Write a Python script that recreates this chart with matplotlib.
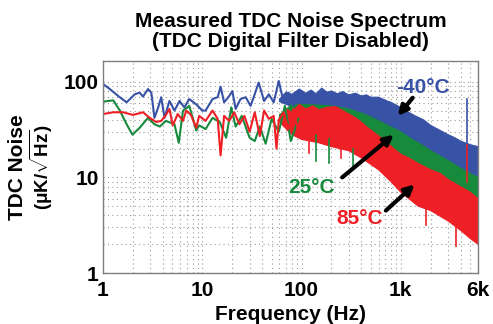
import numpy as np
import matplotlib
matplotlib.use("Agg")
from matplotlib import pyplot as plt
from matplotlib.ticker import FixedLocator, LogLocator, NullFormatter

# Colours
BLUE  = "#3853a6"
GREEN = "#178a3c"
RED   = "#ee2026"

# Low-frequency part (individual wiggles), Hz / uK/rtHz
blueLowF  = [1.0, 1.17, 1.45, 1.73, 2.09, 2.34, 2.53, 2.84, 3.07, 3.3, 3.6, 3.86, 4.17, 4.67,
             5.25, 5.9, 6.6, 7.4, 8.7, 10.0, 10.8, 12.7, 14.3, 15.3, 16.6, 18.7, 20.1, 21.7,
             24.3, 27.4, 30.7, 33.0, 37.0, 42.0, 46.8, 52.5, 59.0, 66.0, 74.0, 83.0, 93.0,
             104.0, 117.0, 131.0]
blueLowV  = [95, 84, 70, 61, 74, 77, 70, 84, 77, 42, 54, 69, 42, 63,
             50, 63, 54, 66, 58, 50, 50, 66, 69, 89, 61, 71, 80, 52,
             66, 69, 56, 69, 98, 63, 74, 61, 102, 61, 77, 56, 80,
             61, 77, 66]
greenLowF = [1.0, 1.27, 1.48, 1.73, 1.98, 2.34, 2.84, 3.3, 3.73, 4.3, 5.25, 5.8, 6.4, 7.4,
             8.7, 9.3, 10.8, 12.7, 15.0, 17.4, 19.6, 21.7, 25.0, 30.0, 33.8, 38.0, 43.5,
             50.0, 59.0, 68.0, 78.0, 93.0]
greenLowV = [62, 64, 50, 36, 28, 33, 42, 36, 34, 39, 36, 23, 50, 56,
             31, 35, 32, 42, 38, 26, 54, 34, 44, 26, 24, 34, 22.5,
             41, 30, 56, 24, 41]
redLowF   = [1.0, 1.27, 1.6, 2.0, 2.53, 2.95, 3.44, 3.86, 4.3, 4.67, 5.05, 5.66, 6.4, 6.9,
             7.7, 8.7, 9.3, 10.8, 12.7, 14.3, 15.3, 16.6, 18.7, 21.0, 23.7, 26.6, 30.0,
             33.8, 38.0, 42.0, 46.8, 52.5, 56.0, 59.0, 66.0, 74.0, 83.0, 93.0, 104.0]
redLowV   = [46, 48, 48, 45, 48, 42, 38, 39, 45, 52, 35, 46, 39, 50,
             45, 33, 44, 39, 50, 41, 17, 44, 39, 48, 36, 44, 30,
             48, 27, 50, 41, 44, 20, 40, 48, 32, 52, 30, 48]

# Dense part: upper / lower edge of each noise band
blueTopF  = [60, 70, 80, 95, 110, 125, 140, 160, 180, 200, 230, 260, 300, 350, 400, 450,
             500, 600, 700, 800, 900, 1000, 1200, 1400, 1700, 2000, 2500, 3000, 3500, 4000,
             5000, 6000]
blueTopV  = [66, 78, 74, 84, 76, 82, 75, 86, 78, 80, 75, 79, 73, 76, 71, 73,
             69, 69, 64, 61, 57, 54, 48, 44, 40, 35, 31, 28, 26, 24,
             22, 21]
blueBotF  = [60, 100, 200, 400, 700, 1000, 2000, 4000, 6000]
blueBotV  = [62, 50, 48, 42, 32, 27, 17, 11, 9]

greenTopF = [60, 80, 100, 150, 200, 300, 400, 500, 700, 1000, 1300, 1500, 2000, 3000,
             4000, 5000, 6000]
greenTopV = [45, 58, 58, 57, 56, 52, 47, 43, 36, 30, 25, 23, 19, 15, 12.5, 11, 10]

redTopF   = [60, 70, 80, 95, 110, 130, 150, 180, 220, 260, 300, 350, 400, 450, 550,
             700, 850, 1000, 1200, 1500, 2000, 2500, 3000, 4000, 5000, 6000]
redTopV   = [42, 52, 48, 58, 52, 56, 51, 54, 55, 50, 46, 42, 38, 34, 29,
             24, 20, 17.5, 16, 14, 12, 11, 9.5, 8, 7, 6]
redBotF   = [60, 80, 100, 150, 200, 300, 400, 600, 800, 1000, 1500, 2000, 3000, 4000, 5000, 6000]
redBotV   = [38, 28, 25, 23, 21, 19, 16, 12, 9, 7, 5, 4.5, 3.5, 2.8, 2.3, 2]

# Single spikes: frequency, low, high
redSpikes   = [(120, 18, 28), (250, 16, 24), (1800, 3.2, 6), (3600, 1.9, 4)]
greenSpikes = [(140, 15, 28), (190, 14, 25), (330, 13, 20)]
spikeF    = 4650
spikeBlue = (21, 66)
spikeRed  = (9, 22)

xTicks  = [1, 10, 100, 1000, 6000]
xLabels = ["1", "10", "100", "1k", "6k"]
yTicks  = [1, 10, 100]
yLabels = ["1", "10", "100"]


def band(ax, fTop, vTop, fBot, vBot, color):
    xs = np.concatenate([fTop, fBot[::-1]])
    ys = np.concatenate([vTop, vBot[::-1]])
    ax.fill(xs, ys, color=color, lw=0.8, ec=color)


def main():
    plt.rcParams["font.family"] = ["Liberation Sans", "DejaVu Sans"]
    plt.rcParams["font.weight"] = "bold"
    plt.rcParams["mathtext.fontset"] = "custom"
    plt.rcParams["mathtext.rm"] = "Liberation Sans:bold"
    plt.rcParams["mathtext.it"] = "Liberation Sans:bold"
    plt.rcParams["mathtext.bf"] = "Liberation Sans:bold"

    fig = plt.figure(figsize=(4.93, 3.24), dpi=100)
    ax = fig.add_axes([0.2089, 0.1574, 0.7607, 0.6543])

    redBotF_a = np.array(redBotF)
    redBotV_a = np.array(redBotV, dtype=float)

    # Blue (-40C)
    ax.plot(blueLowF, blueLowV, color=BLUE, lw=1.5)
    band(ax, np.array(blueTopF), np.array(blueTopV), np.array(blueBotF), np.array(blueBotV), BLUE)
    ax.plot([spikeF, spikeF], spikeBlue, color=BLUE, lw=1.2)
    # Green (25C) - its lower edge sits under the red band
    ax.plot(greenLowF, greenLowV, color=GREEN, lw=1.5)
    band(ax, np.array(greenTopF), np.array(greenTopV), redBotF_a, redBotV_a * 1.05, GREEN)
    for f, lo, hi in greenSpikes:
        ax.plot([f, f], [lo, hi], color=GREEN, lw=1.2)
    # Red (85C)
    ax.plot(redLowF, redLowV, color=RED, lw=1.5)
    band(ax, np.array(redTopF), np.array(redTopV), redBotF_a, redBotV_a, RED)
    for f, lo, hi in redSpikes:
        ax.plot([f, f], [lo, hi], color=RED, lw=1.2)
    ax.plot([spikeF, spikeF], spikeRed, color=RED, lw=1.2)

    ax.set_xscale("log")
    ax.set_yscale("log")
    ax.set_xlim(1, 6000)
    ax.set_ylim(1, 165)

    ax.xaxis.set_major_locator(FixedLocator(xTicks))
    ax.set_xticklabels(xLabels)
    ax.yaxis.set_major_locator(FixedLocator(yTicks))
    ax.set_yticklabels(yLabels)
    ax.xaxis.set_minor_locator(LogLocator(base=10, subs=np.arange(2, 10), numticks=20))
    ax.yaxis.set_minor_locator(LogLocator(base=10, subs=np.arange(2, 10), numticks=20))
    ax.xaxis.set_minor_formatter(NullFormatter())
    ax.yaxis.set_minor_formatter(NullFormatter())
    ax.tick_params(which="both", length=0, labelsize=15, pad=3)
    ax.tick_params(axis="x", pad=6)
    ax.grid(True, which="both", color="#9a9a9a", ls=(0, (1, 3)), lw=0.8)
    ax.set_axisbelow(True)
    for s in ax.spines.values():
        s.set_color("#7f7f7f")
        s.set_linewidth(1.0)

    fig.text(0.589, 0.013, "Frequency (Hz)", fontsize=15, fontweight="bold",
             ha="center", va="baseline")
    fig.text(0.036, 0.485, "TDC Noise", rotation=90, fontsize=15, fontweight="bold",
             ha="center", va="center")
    fig.text(0.085, 0.485, r"($\mu$K/$\sqrt{\mathrm{Hz}}$)", rotation=90, fontsize=13.5,
             ha="center", va="center")
    fig.text(0.589, 0.935, "Measured TDC Noise Spectrum", fontsize=15, fontweight="bold",
             ha="center", va="center")
    fig.text(0.589, 0.873, "(TDC Digital Filter Disabled)", fontsize=15, fontweight="bold",
             ha="center", va="center")

    arrow = dict(arrowstyle="-|>", color="black", lw=3, mutation_scale=14, shrinkA=0, shrinkB=0)
    ax.text(1660, 88, "-40°C", color=BLUE, fontsize=15, fontweight="bold", ha="center", va="center")
    ax.annotate("", xy=(933, 44), xytext=(1318, 68), arrowprops=arrow)
    ax.text(126, 7.9, "25°C", color=GREEN, fontsize=15, fontweight="bold", ha="center", va="center")
    ax.annotate("", xy=(851, 28), xytext=(257, 10), arrowprops=arrow)
    ax.text(389, 3.74, "85°C", color=RED, fontsize=15, fontweight="bold", ha="center", va="center")
    ax.annotate("", xy=(1380, 8.45), xytext=(708, 4.5), arrowprops=arrow)

    plt.savefig("out.png", dpi=100)
    plt.close("all")


if __name__ == "__main__":
    main()
